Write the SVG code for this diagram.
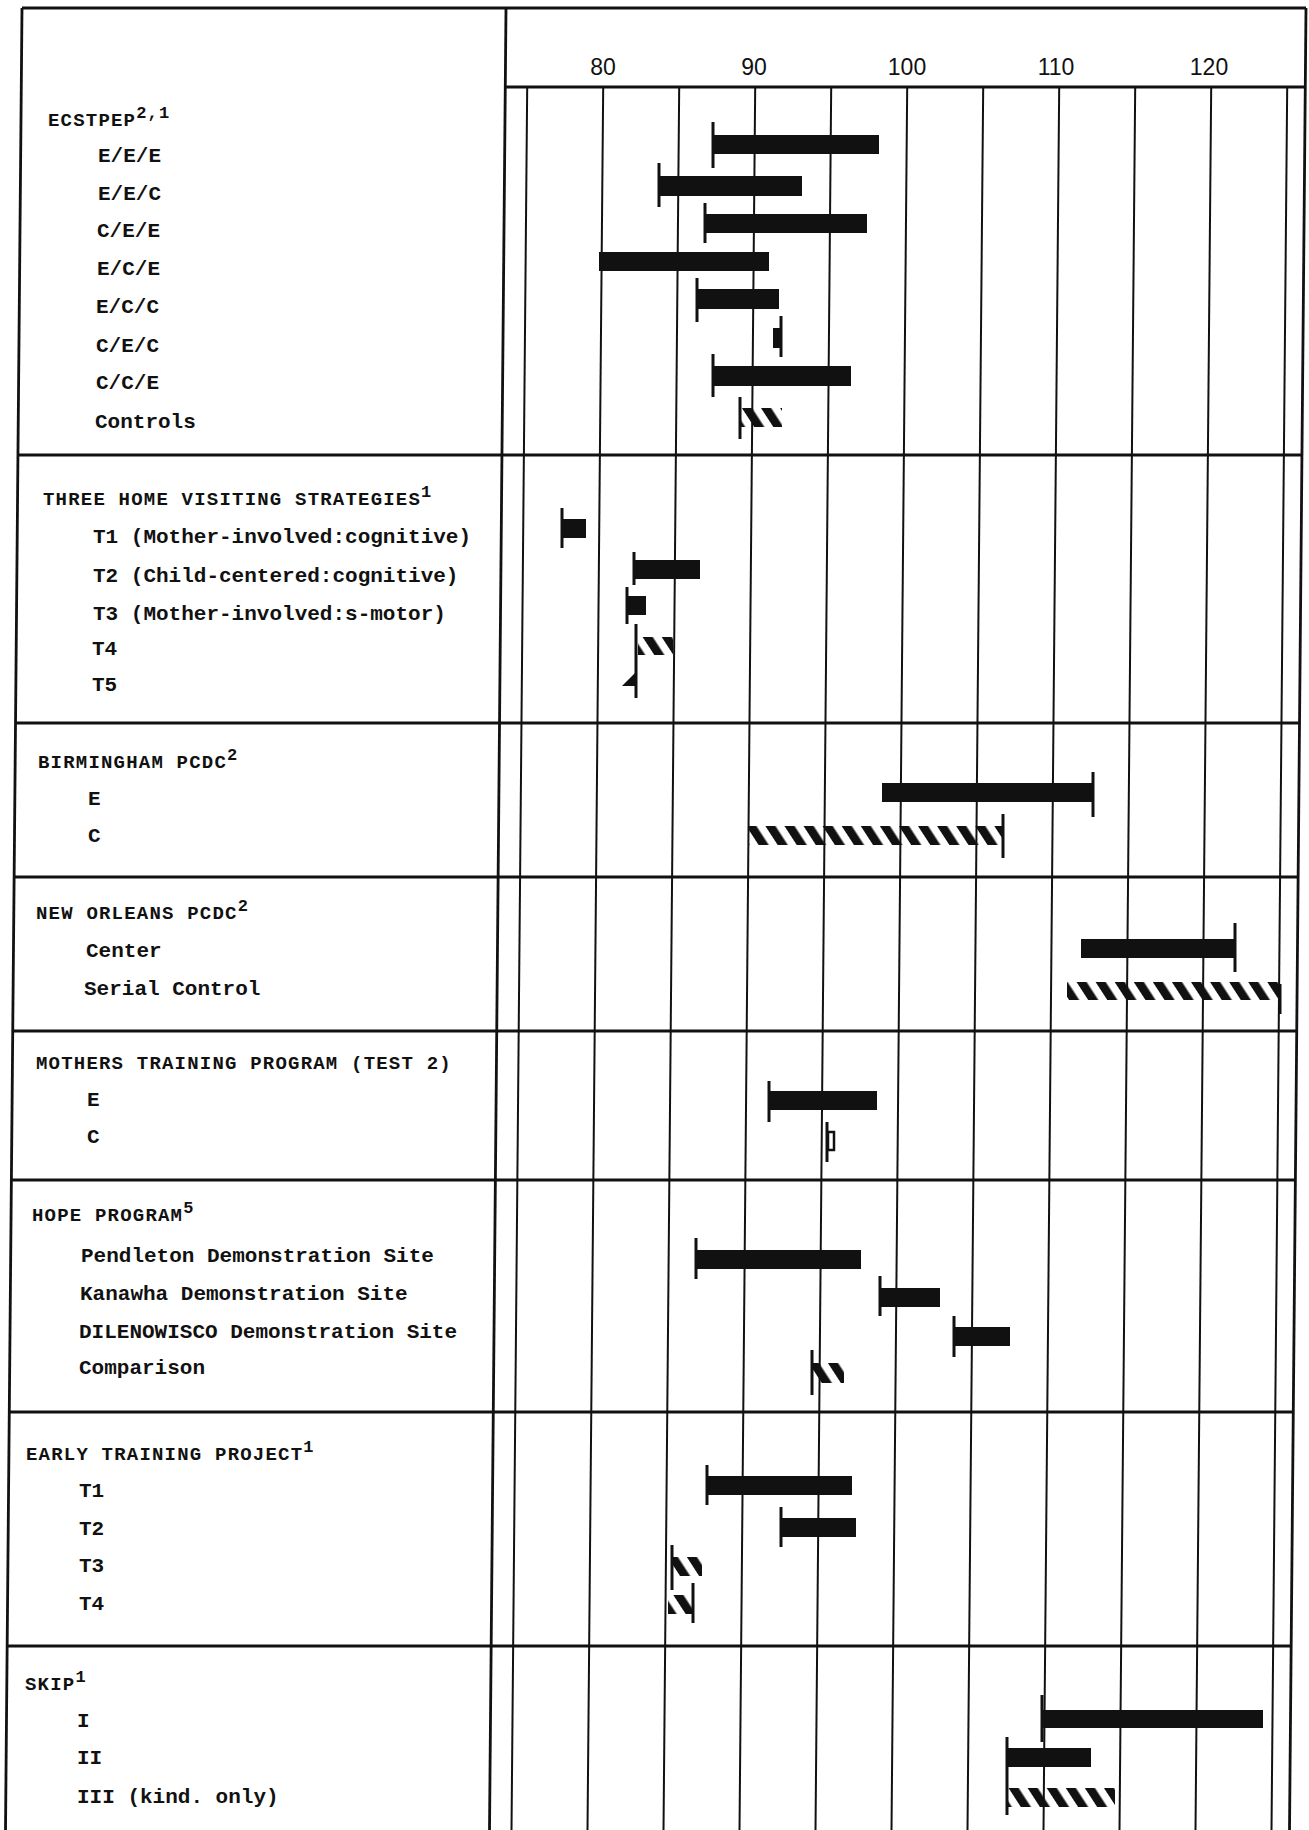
<svg xmlns="http://www.w3.org/2000/svg" width="1309" height="1830" viewBox="0 0 1309 1830">
<defs>
<style>
.lbl{font-family:"Liberation Mono","DejaVu Sans Mono",monospace;font-size:21px;font-weight:bold;fill:#111}
.hdr{font-size:19px;letter-spacing:1.2px}
.sup{font-size:17px}
.axis{font-family:"Liberation Sans",Arial,sans-serif;font-size:23px;fill:#111;text-anchor:middle}
.border{stroke:#111;stroke-width:2.8;fill:none}
.grid line{stroke:#111;stroke-width:2}
.bar{fill:#111}
.hatch{fill:url(#hatch)}
.tick{stroke:#111;stroke-width:3}
</style>
<pattern id="hatch" patternUnits="userSpaceOnUse" width="16" height="16" patternTransform="rotate(-33)">
<rect width="8.5" height="16" fill="#111"/>
</pattern>
</defs>
<rect width="1309" height="1830" fill="#fff"/>

<g id="connectors">
<g id="frame" class="border">
<line x1="22" y1="8" x2="5.5" y2="1830"/>
<line x1="506" y1="8" x2="489.5" y2="1830"/>
<line x1="1306" y1="8" x2="1289.5" y2="1830"/>
<line x1="22" y1="8" x2="1306" y2="8"/>
<line x1="505.2" y1="87" x2="1305.2" y2="87"/>
<line x1="17.9" y1="455" x2="1301.9" y2="455"/>
<line x1="15.5" y1="723" x2="1299.5" y2="723"/>
<line x1="14.1" y1="877" x2="1298.1" y2="877"/>
<line x1="12.7" y1="1031" x2="1296.7" y2="1031"/>
<line x1="11.4" y1="1180" x2="1295.4" y2="1180"/>
<line x1="9.3" y1="1412" x2="1293.3" y2="1412"/>
<line x1="7.2" y1="1646" x2="1291.2" y2="1646"/>
</g>
<g id="grid" class="grid">
<line x1="527.2" y1="87" x2="511.5" y2="1830"/>
<line x1="603.2" y1="87" x2="587.5" y2="1830"/>
<line x1="679.2" y1="87" x2="663.5" y2="1830"/>
<line x1="755.2" y1="87" x2="739.5" y2="1830"/>
<line x1="831.2" y1="87" x2="815.5" y2="1830"/>
<line x1="907.2" y1="87" x2="891.5" y2="1830"/>
<line x1="983.2" y1="87" x2="967.5" y2="1830"/>
<line x1="1059.2" y1="87" x2="1043.5" y2="1830"/>
<line x1="1135.2" y1="87" x2="1119.5" y2="1830"/>
<line x1="1211.2" y1="87" x2="1195.5" y2="1830"/>
<line x1="1287.2" y1="87" x2="1271.5" y2="1830"/>
</g>
</g>

<g id="axis" class="axis">
<text x="603" y="75">80</text>
<text x="754" y="75">90</text>
<text x="907" y="75">100</text>
<text x="1056" y="75">110</text>
<text x="1209" y="75">120</text>
</g>

<g id="sec-ecstpep">
<g class="lbl">
<text x="48" y="126" class="hdr">ECSTPEP<tspan class="sup" dy="-8">2,1</tspan></text>
<text x="98" y="162">E/E/E</text>
<text x="98" y="200">E/E/C</text>
<text x="97" y="237">C/E/E</text>
<text x="97" y="275">E/C/E</text>
<text x="96" y="313">E/C/C</text>
<text x="96" y="352">C/E/C</text>
<text x="96" y="389">C/C/E</text>
<text x="95" y="428">Controls</text>
</g>
<rect class="bar" x="712" y="135" width="167" height="19"/><line class="tick" x1="713" y1="122" x2="713" y2="168"/>
<rect class="bar" x="658" y="176" width="144" height="20"/><line class="tick" x1="659" y1="163" x2="659" y2="207"/>
<rect class="bar" x="704" y="214" width="163" height="19"/><line class="tick" x1="705" y1="203" x2="705" y2="243"/>
<rect class="bar" x="599" y="252" width="170" height="19"/>
<rect class="bar" x="696" y="289" width="83" height="20"/><line class="tick" x1="697" y1="278" x2="697" y2="322"/>
<rect class="bar" x="773" y="328" width="8" height="20"/><line class="tick" x1="781" y1="316" x2="781" y2="357"/>
<rect class="bar" x="712" y="366" width="139" height="20"/><line class="tick" x1="713" y1="354" x2="713" y2="397"/>
<rect class="hatch" x="741" y="408" width="41" height="19"/><line class="tick" x1="740" y1="397" x2="740" y2="439"/>
</g>

<g id="sec-home-visiting">
<g class="lbl">
<text x="43" y="505" class="hdr">THREE HOME VISITING STRATEGIES<tspan class="sup" dy="-8">1</tspan></text>
<text x="93" y="543">T1 (Mother-involved:cognitive)</text>
<text x="93" y="582">T2 (Child-centered:cognitive)</text>
<text x="93" y="620">T3 (Mother-involved:s-motor)</text>
<text x="92" y="655">T4</text>
<text x="92" y="691">T5</text>
</g>
<rect class="bar" x="561" y="519" width="25" height="19"/><line class="tick" x1="562" y1="508" x2="562" y2="548"/>
<rect class="bar" x="633" y="560" width="67" height="19"/><line class="tick" x1="634" y1="552" x2="634" y2="585"/>
<rect class="bar" x="626" y="596" width="20" height="19"/><line class="tick" x1="627" y1="587" x2="627" y2="624"/>
<rect class="hatch" x="638" y="637" width="35" height="18"/><line class="tick" x1="636" y1="624" x2="636" y2="698"/>
<polygon class="bar" points="622,686 635,673 635,686"/>
</g>

<g id="sec-birmingham">
<g class="lbl">
<text x="38" y="768" class="hdr">BIRMINGHAM PCDC<tspan class="sup" dy="-8">2</tspan></text>
<text x="88" y="805">E</text>
<text x="88" y="842">C</text>
</g>
<rect class="bar" x="882" y="783" width="211" height="19"/><line class="tick" x1="1093" y1="772" x2="1093" y2="817"/>
<rect class="hatch" x="748" y="826" width="255" height="19"/><line class="tick" x1="1003" y1="814" x2="1003" y2="858"/>
</g>

<g id="sec-new-orleans">
<g class="lbl">
<text x="36" y="919" class="hdr">NEW ORLEANS PCDC<tspan class="sup" dy="-8">2</tspan></text>
<text x="86" y="957">Center</text>
<text x="84" y="995">Serial Control</text>
</g>
<rect class="bar" x="1081" y="939" width="154" height="19"/><line class="tick" x1="1235" y1="923" x2="1235" y2="972"/>
<rect class="hatch" x="1067" y="982" width="213" height="18"/><line class="tick" x1="1280" y1="984" x2="1280" y2="1014"/>
</g>

<g id="sec-mothers">
<g class="lbl">
<text x="36" y="1069" class="hdr">MOTHERS TRAINING PROGRAM (TEST 2)</text>
<text x="87" y="1106">E</text>
<text x="87" y="1143">C</text>
</g>
<rect class="bar" x="768" y="1091" width="109" height="19"/><line class="tick" x1="769" y1="1081" x2="769" y2="1122"/>
<line class="tick" x1="827" y1="1122" x2="827" y2="1162"/>
<rect x="828" y="1132" width="6" height="18" fill="none" stroke="#111" stroke-width="2.5"/>
</g>

<g id="sec-hope">
<g class="lbl">
<text x="32" y="1221" class="hdr">HOPE PROGRAM<tspan class="sup" dy="-8">5</tspan></text>
<text x="81" y="1262">Pendleton Demonstration Site</text>
<text x="80" y="1300">Kanawha Demonstration Site</text>
<text x="79" y="1338">DILENOWISCO Demonstration Site</text>
<text x="79" y="1374">Comparison</text>
</g>
<rect class="bar" x="695" y="1250" width="166" height="19"/><line class="tick" x1="696" y1="1238" x2="696" y2="1279"/>
<rect class="bar" x="879" y="1288" width="61" height="19"/><line class="tick" x1="880" y1="1276" x2="880" y2="1316"/>
<rect class="bar" x="953" y="1327" width="57" height="19"/><line class="tick" x1="954" y1="1316" x2="954" y2="1357"/>
<rect class="hatch" x="813" y="1363" width="31" height="20"/><line class="tick" x1="812" y1="1350" x2="812" y2="1395"/>
</g>

<g id="sec-early-training">
<g class="lbl">
<text x="26" y="1460" class="hdr">EARLY TRAINING PROJECT<tspan class="sup" dy="-8">1</tspan></text>
<text x="79" y="1497">T1</text>
<text x="79" y="1535">T2</text>
<text x="79" y="1572">T3</text>
<text x="79" y="1610">T4</text>
</g>
<rect class="bar" x="706" y="1476" width="146" height="19"/><line class="tick" x1="707" y1="1465" x2="707" y2="1505"/>
<rect class="bar" x="780" y="1518" width="76" height="19"/><line class="tick" x1="781" y1="1507" x2="781" y2="1547"/>
<rect class="hatch" x="672" y="1557" width="30" height="19"/><line class="tick" x1="672" y1="1545" x2="672" y2="1590"/>
<rect class="hatch" x="668" y="1595" width="25" height="19"/><line class="tick" x1="693" y1="1583" x2="693" y2="1623"/>
</g>

<g id="sec-skip">
<g class="lbl">
<text x="25" y="1690" class="hdr">SKIP<tspan class="sup" dy="-8">1</tspan></text>
<text x="77" y="1727">I</text>
<text x="77" y="1764">II</text>
<text x="77" y="1803">III (kind. only)</text>
</g>
<rect class="bar" x="1041" y="1710" width="222" height="18"/><line class="tick" x1="1042" y1="1695" x2="1042" y2="1742"/>
<rect class="bar" x="1006" y="1748" width="85" height="19"/><line class="tick" x1="1007" y1="1737" x2="1007" y2="1778"/>
<rect class="hatch" x="1008" y="1788" width="107" height="19"/><line class="tick" x1="1007" y1="1778" x2="1007" y2="1815"/>
</g>
</svg>
